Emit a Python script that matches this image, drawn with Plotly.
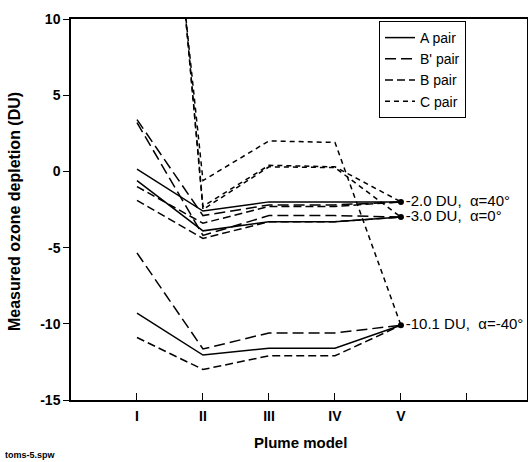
import plotly.graph_objects as go

# ---- data ----
plume_models = ["I", "II", "III", "IV", "V"]
model_pos = [1, 2, 3, 4, 5]

# alpha = 40 deg group (converges to -2.0 DU)
A_40 = [0.15, -2.6, -2.0, -2.0, -2.0]
Bp_40 = [3.4, -2.9, -2.2, -2.2, -2.0]
B_40 = [-1.0, -3.4, -2.3, -2.3, -2.0]
C_40 = [45.0, -2.3, 0.4, 0.3, -2.0]

# alpha = 0 deg group (converges to -3.0 DU)
A_0 = [-0.6, -3.9, -3.3, -3.3, -3.0]
Bp_0 = [3.2, -4.2, -2.9, -2.9, -3.0]
B_0 = [-1.9, -4.4, -3.3, -3.3, -3.0]
C_0 = [45.5, -2.5, 0.3, 0.25, -3.0]

# alpha = -40 deg group (converges to -10.1 DU)
A_m40 = [-9.3, -12.05, -11.6, -11.6, -10.1]
Bp_m40 = [-5.35, -11.65, -10.6, -10.6, -10.1]
B_m40 = [-10.9, -13.0, -12.1, -12.1, -10.1]
C_m40 = [40.6, -0.6, 2.0, 1.9, -10.1]

end_values = [-2.0, -3.0, -10.1]
end_labels = ["-2.0 DU,  \u03b1=40\u00b0", "-3.0 DU,  \u03b1=0\u00b0", "-10.1 DU,  \u03b1=-40\u00b0"]

pair_names = ["A pair", "B' pair", "B pair", "C pair"]
pair_dash = ["solid", "11px,5px", "8px,4px", "5px,4px"]

groups = [
    [A_40, Bp_40, B_40, C_40],
    [A_0, Bp_0, B_0, C_0],
    [A_m40, Bp_m40, B_m40, C_m40],
]

FONT = "Liberation Sans, Arial, Helvetica, sans-serif"
L, R, T, B = 71, 1, 19, 62
W, H = 528, 462
PW, PH = W - L - R, H - T - B

fig = go.Figure()
for gi, grp in enumerate(groups):
    for pi, series in enumerate(grp):
        fig.add_trace(go.Scatter(
            x=model_pos, y=series, mode="lines",
            line=dict(color="black", width=1.5, dash=pair_dash[pi]),
            name=pair_names[pi], legendgroup=pair_names[pi],
            showlegend=(gi == 0), hoverinfo="skip"))

fig.add_trace(go.Scatter(
    x=[model_pos[-1]] * len(end_values), y=end_values, mode="markers+text",
    marker=dict(color="black", size=6),
    text=end_labels, textposition="middle right",
    textfont=dict(family=FONT, size=15, color="black"),
    showlegend=False, cliponaxis=False, hoverinfo="skip"))

fig.update_layout(
    width=W, height=H,
    margin=dict(l=L, r=R, t=T, b=B, autoexpand=False),
    paper_bgcolor="white", plot_bgcolor="white",
    font=dict(family=FONT, color="black"),
    legend=dict(
        x=(379 - L) / PW, y=(T + PH - 21) / PH, xanchor="left", yanchor="top",
        bordercolor="black", borderwidth=1, bgcolor="white",
        font=dict(family=FONT, size=14, color="black"),
        tracegroupgap=0, itemwidth=30),
)

fig.update_xaxes(
    range=[0, 6.91], showgrid=False, zeroline=False, automargin=False,
    showline=True, linecolor="black", linewidth=1.5, mirror=True,
    ticks="inside", ticklen=7, tickcolor="black", ticklabelstandoff=2,
    tickvals=model_pos + [6], ticktext=["<b>%s</b>" % m for m in plume_models] + [""],
    tickfont=dict(family=FONT, size=14, color="black"),
)
fig.update_yaxes(
    range=[-15, 10], showgrid=False, zeroline=False, automargin=False,
    showline=True, linecolor="black", linewidth=1.5, mirror=True,
    ticks="outside", ticklen=6, tickcolor="black",
    tickvals=[10, 5, 0, -5, -10, -15],
    ticktext=["<b>10</b>", "<b>5</b>", "<b>0</b>", "<b>-5</b>", "<b>-10</b>", "<b>-15</b>"],
    tickfont=dict(family=FONT, size=14, color="black"),
)

# axis titles placed by pixel position
fig.add_annotation(
    xref="paper", yref="paper", x=(300 - L) / PW, y=(T + PH - 442) / PH,
    xanchor="center", yanchor="middle", showarrow=False,
    text="<b>Plume model</b>", font=dict(family=FONT, size=15, color="black"))
fig.add_annotation(
    xref="paper", yref="paper", x=(14 - L) / PW, y=(T + PH - 212) / PH,
    xanchor="center", yanchor="middle", showarrow=False, textangle=-90,
    text="<b>Measured ozone depletion (DU)</b>", font=dict(family=FONT, size=16, color="black"))
fig.add_annotation(
    xref="paper", yref="paper", x=(3 - L) / PW, y=(T + PH - 455) / PH,
    xanchor="left", yanchor="middle", showarrow=False,
    text="<b>toms-5.spw</b>", font=dict(family=FONT, size=9, color="black"))

fig.write_html(
    "out.html",
    config={"displayModeBar": False},
    post_script="document.body.style.margin='0px';document.body.style.overflow='hidden';")
